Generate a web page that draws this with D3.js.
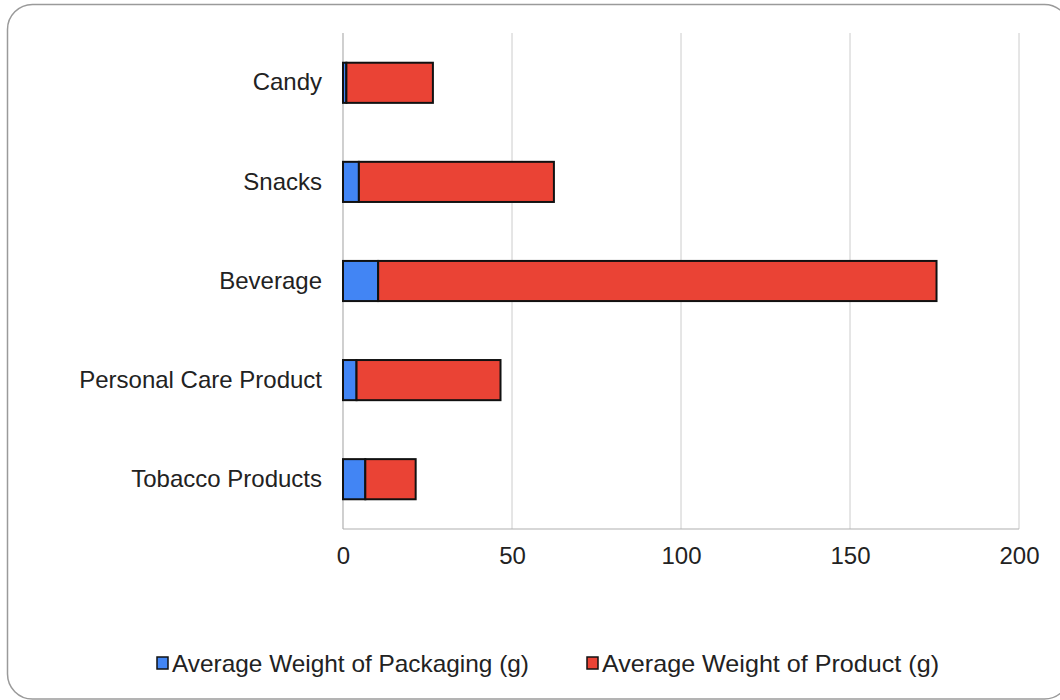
<!DOCTYPE html>
<html>
<head>
<meta charset="utf-8">
<script src="https://cdn.jsdelivr.net/npm/d3@7"></script>
<style>
  html, body { margin: 0; padding: 0; background: #fff; }
  svg { display: block; }
  text { font-family: "Liberation Sans", Arial, sans-serif; fill: #222; }
</style>
</head>
<body>
<svg id="chart" width="1060" height="700"></svg>
<script>
const categories = ["Candy", "Snacks", "Beverage", "Personal Care Product", "Tobacco Products"];
const packaging = [1, 4.7, 10.4, 4.0, 6.6];
const product = [25.6, 57.7, 165.2, 42.6, 14.9];
const seriesNames = ["Average Weight of Packaging (g)", "Average Weight of Product (g)"];
const colors = ["#4285f4", "#ea4335"];
const xTicks = [0, 50, 100, 150, 200];

const FS = 24;
const svg = d3.select("#chart");

// outer rounded frame
svg.append("rect")
  .attr("x", 7.5).attr("y", 4.5)
  .attr("width", 1062).attr("height", 694.5)
  .attr("rx", 25).attr("ry", 25)
  .attr("fill", "#fff")
  .attr("stroke", "#9a9a9a").attr("stroke-width", 1.5);

const margin = { left: 343, right: 1019, top: 33, bottom: 529 };

const x = d3.scaleLinear().domain([0, 200]).range([margin.left, margin.right]);
const y = d3.scaleBand().domain(categories).range([margin.top, margin.bottom]).paddingInner(0.595).paddingOuter(0.3);

// gridlines
svg.append("g")
  .selectAll("line")
  .data(xTicks.slice(1))
  .join("line")
  .attr("x1", d => x(d)).attr("x2", d => x(d))
  .attr("y1", margin.top).attr("y2", margin.bottom)
  .attr("stroke", "#cccccc").attr("stroke-width", 1);

// axes lines
svg.append("line")
  .attr("x1", x(0)).attr("x2", x(0))
  .attr("y1", margin.top).attr("y2", margin.bottom)
  .attr("stroke", "#b0b0b0").attr("stroke-width", 1.2);
svg.append("line")
  .attr("x1", x(0)).attr("x2", x(200))
  .attr("y1", margin.bottom).attr("y2", margin.bottom)
  .attr("stroke", "#b0b0b0").attr("stroke-width", 1.2);

// x axis via d3 axis
const xAxis = d3.axisBottom(x).tickValues(xTicks).tickSize(0).tickPadding(18).tickFormat(d3.format("d"));
const gx = svg.append("g").attr("transform", `translate(0,${margin.bottom})`).call(xAxis);
gx.select(".domain").remove();
gx.selectAll("text").attr("font-size", FS).attr("fill", "#222")
  .style("font-family", "'Liberation Sans', Arial, sans-serif");

// y axis labels
const yAxis = d3.axisLeft(y).tickSize(0).tickPadding(21);
const gy = svg.append("g").attr("transform", `translate(${margin.left},0)`).call(yAxis);
gy.select(".domain").remove();
gy.selectAll("text").attr("font-size", FS).attr("fill", "#222")
  .style("font-family", "'Liberation Sans', Arial, sans-serif");

// stacked data
const rows = categories.map((c, i) => ({ cat: c, packaging: packaging[i], product: product[i] }));
const stack = d3.stack().keys(["packaging", "product"]);
const layers = stack(rows);

svg.append("g")
  .selectAll("g")
  .data(layers)
  .join("g")
  .attr("fill", (d, i) => colors[i])
  .selectAll("rect")
  .data(d => d)
  .join("rect")
  .attr("x", d => x(d[0]))
  .attr("width", d => x(d[1]) - x(d[0]))
  .attr("y", d => y(d.data.cat))
  .attr("height", y.bandwidth())
  .attr("stroke", "#111")
  .attr("stroke-width", 2);

// legend
const legendItems = [
  { name: seriesNames[0], color: colors[0], x: 157, len: 357 },
  { name: seriesNames[1], color: colors[1], x: 587, len: 337 }
];
const lg = svg.append("g");
legendItems.forEach(item => {
  lg.append("rect")
    .attr("x", item.x).attr("y", 657)
    .attr("width", 11).attr("height", 12)
    .attr("fill", item.color).attr("stroke", "#111").attr("stroke-width", 1.5);
  lg.append("text")
    .attr("x", item.x + 15).attr("y", 663)
    .attr("dominant-baseline", "central")
    .attr("font-size", FS)
    .attr("textLength", item.len)
    .attr("lengthAdjust", "spacingAndGlyphs")
    .text(item.name);
});
</script>
</body>
</html>
